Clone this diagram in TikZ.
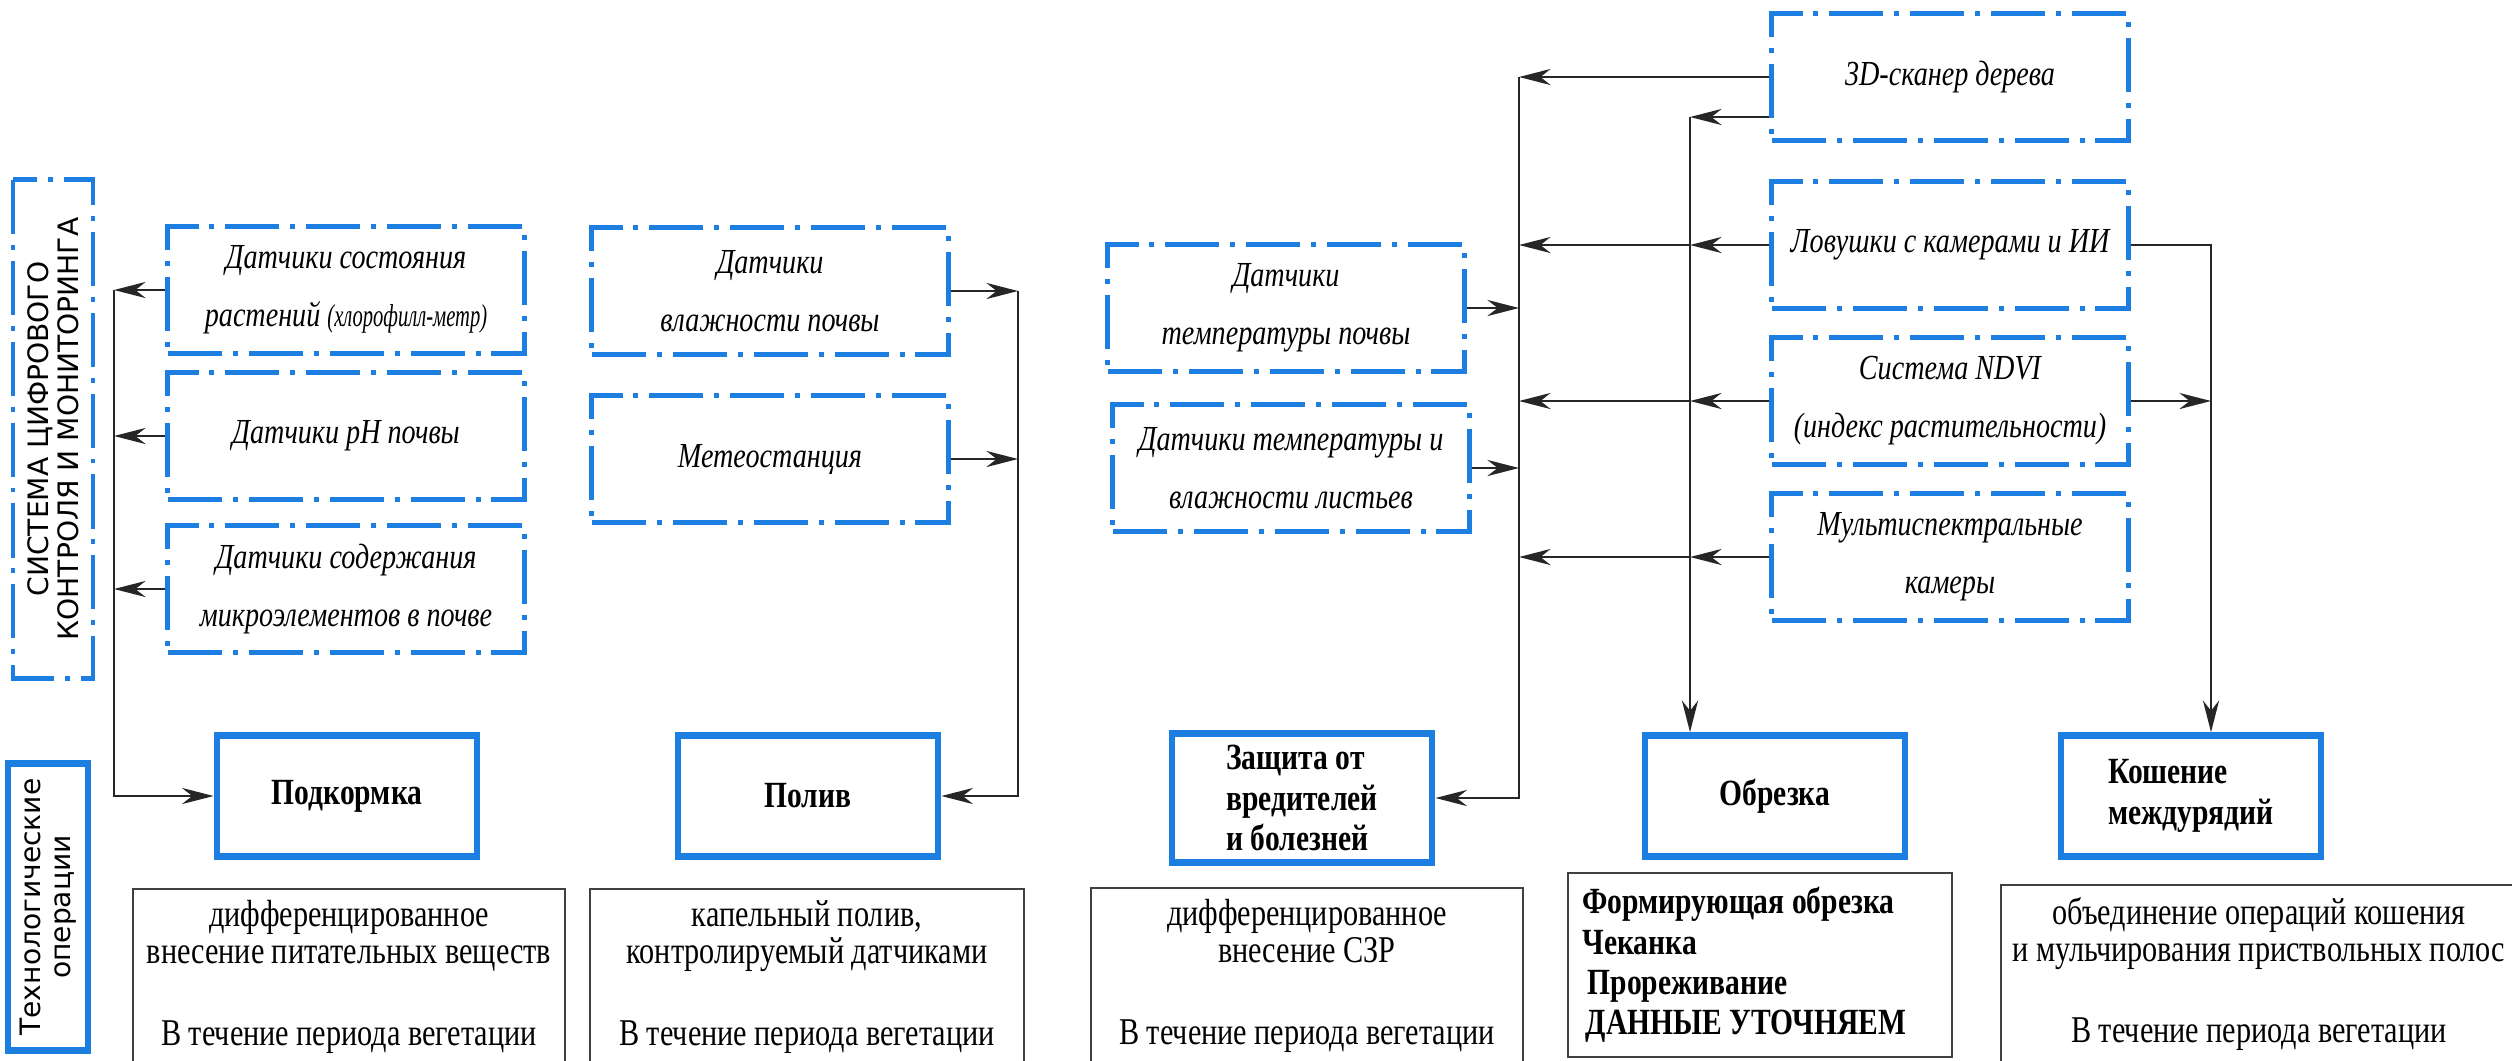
\documentclass[tikz,border=0pt]{standalone}
\usepackage{fontspec}
\setmainfont{Liberation Serif}
\newfontfamily\condserif{Liberation Serif}[FakeStretch=0.8]
\newfontfamily\narrowserif{Liberation Serif}[FakeStretch=0.65]
\newfontfamily\labelsans{DejaVu Sans}
\usetikzlibrary{arrows.meta,calc}
\definecolor{boxblue}{RGB}{28,126,224}

\tikzset{
  dashframe/.style={draw=boxblue, line width=1.4pt, dash pattern=on 15.4pt off 3.1pt on 1.4pt off 3.1pt},
  sensor/.style={dashframe, minimum width=3.56cm, minimum height=1.27cm, align=center,
    font=\condserif\itshape\fontsize{10}{16.5}\selectfont},
  opbox/.style={draw=boxblue, line width=1.9pt, minimum width=2.6cm, minimum height=1.21cm, align=flush left,
    font=\condserif\bfseries\fontsize{10.5}{11.5}\selectfont},
  notebox/.style={draw=black!75, line width=0.6pt, minimum height=1.62cm, align=center,
    font=\condserif\fontsize{10.75}{10.5}\selectfont},
  vlabel/.style={rotate=90, align=center, font=\labelsans\fontsize{8}{8.6}\selectfont},
  conn/.style={draw=black!85, line width=0.5pt},
  arr/.style={-{Stealth[length=9pt,width=4.6pt]}}
}

\begin{document}
\begin{tikzpicture}[x=0.01cm, y=-0.01cm]
\useasboundingbox (0,0) rectangle (2512,1060);

% side labels
\node[vlabel, dashframe, minimum width=4.98cm, minimum height=0.8cm] (sys) at (53,429) {СИСТЕМА ЦИФРОВОГО\\КОНТРОЛЯ И МОНИТОРИНГА};
\node[vlabel, draw=boxblue, line width=1.9pt, minimum width=2.87cm, minimum height=0.77cm] (tech) at (48,907) {Технологические\\операции};

% sensors
\node[sensor] (chl) at (346,290) {Датчики состояния\\растений {\narrowserif\fontsize{9}{16.5}\selectfont(хлорофилл-метр)}};
\node[sensor] (ph) at (346,436) {Датчики pH почвы};
\node[sensor] (micro) at (346,589) {Датчики содержания\\микроэлементов в почве};
\node[sensor] (humid) at (770,291) {Датчики\\влажности почвы};
\node[sensor] (meteo) at (770,459) {Метеостанция};
\node[sensor] (tsoil) at (1286,308) {Датчики\\температуры почвы};
\node[sensor] (tleaf) at (1291,468) {Датчики температуры и\\влажности листьев};
\node[sensor] (scan) at (1950,77) {3D-сканер дерева};
\node[sensor] (trap) at (1950,245) {Ловушки с камерами и ИИ};
\node[sensor] (ndvi) at (1950,401) {Система NDVI\\(индекс растительности)};
\node[sensor] (multi) at (1950,557) {Мультиспектральные\\камеры};

% operations
\node[opbox] (feed) at (347,796) {Подкормка};
\node[opbox] (water) at (808,796) {Полив};
\node[opbox] (protect) at (1302,798) {Защита от\\вредителей\\и болезней};
\node[opbox] (prune) at (1775,796) {Обрезка};
\node[opbox] (mow) at (2191,796) {Кошение\\междурядий};

% notes
\node[notebox, minimum width=4.32cm] (feednote) at (349,977) {дифференцированное\\внесение питательных веществ\\[12.8pt]В течение периода вегетации};
\node[notebox, minimum width=4.33cm] (waternote) at (807,977) {капельный полив,\\контролируемый датчиками\\[12.8pt]В течение периода вегетации};
\node[notebox, minimum width=4.32cm] (protectnote) at (1307,976) {дифференцированное\\внесение СЗР\\[12.8pt]В течение периода вегетации};
\node[notebox, align=flush left, text width=3.55cm, inner sep=4pt, minimum height=1.82cm,
  font=\condserif\bfseries\fontsize{10.5}{11.5}\selectfont] (prunenote) at (1760,965)
  {Формирующая обрезка\\Чеканка\\\hspace{1.5pt}Прореживание\\\hspace{1pt}ДАННЫЕ УТОЧНЯЕМ};
\node[notebox, minimum width=4.94cm, minimum height=1.65cm] (mownote) at (2259,974) {объединение операций кошения\\и мульчирования приствольных полос\\[12.8pt]В течение периода вегетации};

% buses
\coordinate (busA) at (114,0);
\coordinate (busB) at (1018,0);
\coordinate (busC) at (1519,0);
\coordinate (busD) at (1690,0);
\coordinate (busE) at (2211,0);
\coordinate (scanout) at ($(scan.west)+(0,40)$);

% feeding
\draw[conn,arr] (chl.west) -- (chl.west -| busA);
\draw[conn,arr] (ph.west) -- (ph.west -| busA);
\draw[conn,arr] (micro.west) -- (micro.west -| busA);
\draw[conn,arr] (chl.west -| busA) |- (feed.west);

% watering
\draw[conn,arr] (humid.east) -- (humid.east -| busB);
\draw[conn,arr] (meteo.east) -- (meteo.east -| busB);
\draw[conn,arr] (humid.east -| busB) |- (water.east);

% protection
\draw[conn,arr] (tsoil.east) -- (tsoil.east -| busC);
\draw[conn,arr] (tleaf.east) -- (tleaf.east -| busC);
\draw[conn,arr] (scan.west) -- (scan.west -| busC);
\draw[conn,arr] (trap.west -| busD) -- (trap.west -| busC);
\draw[conn,arr] (ndvi.west -| busD) -- (ndvi.west -| busC);
\draw[conn,arr] (multi.west -| busD) -- (multi.west -| busC);
\draw[conn,arr] (scan.west -| busC) |- (protect.east);

% pruning
\draw[conn,arr] (scanout) -- (scanout -| busD);
\draw[conn,arr] (trap.west) -- (trap.west -| busD);
\draw[conn,arr] (ndvi.west) -- (ndvi.west -| busD);
\draw[conn,arr] (multi.west) -- (multi.west -| busD);
\draw[conn,arr] (scanout -| busD) -- (busD |- prune.north);

% mowing
\draw[conn,arr] (trap.east) -| (busE |- mow.north);
\draw[conn,arr] (ndvi.east) -- (ndvi.east -| busE);
\end{tikzpicture}
\end{document}
